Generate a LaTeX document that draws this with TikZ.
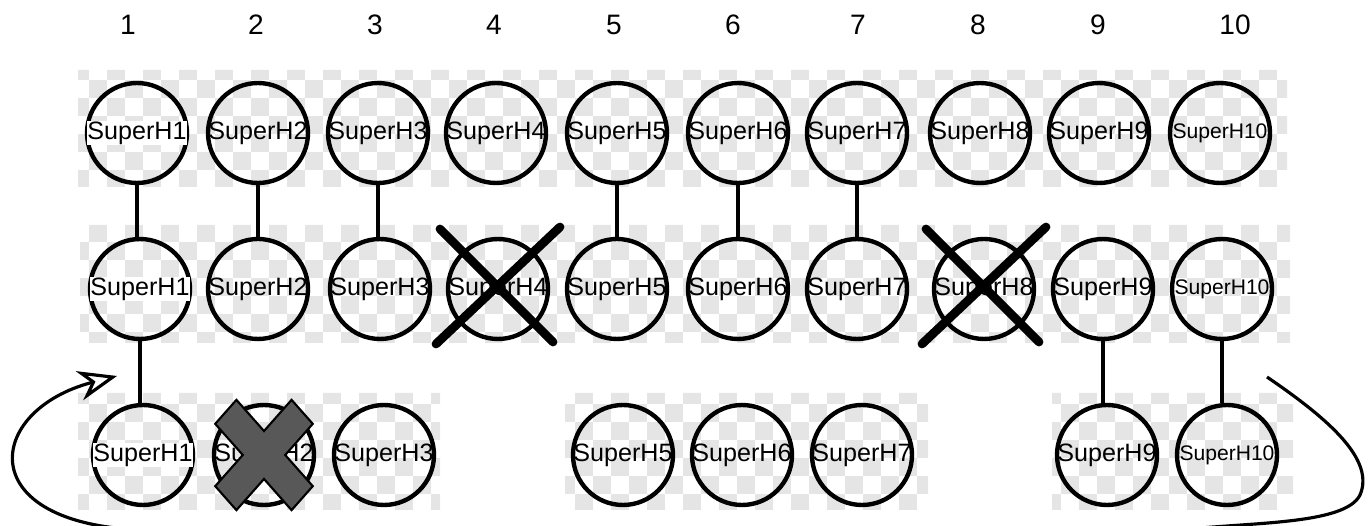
\documentclass[tikz,border=0pt]{standalone}
\usepackage{fontspec}
\setmainfont{Liberation Sans}
\usetikzlibrary{arrows.meta, calc}

\definecolor{checkgray}{HTML}{E5E5E5}
\definecolor{crossgray}{HTML}{585858}

% label of one SuperH circle (zero width, so the circle keeps its size)
\newcommand{\superh}[1]{\makebox[0pt]{\ifnum#1=10\relax\fontsize{12}{14}\selectfont\fi
  \ifnum#1=1\relax\setlength{\fboxsep}{0.5pt}\colorbox{white}{SuperH#1}\else SuperH#1\fi}}

\begin{document}
\begin{tikzpicture}[x=0.02cm, y=-0.02cm]
  \tikzset{
    super node/.style={
        circle, draw=black, line width=2.5pt, minimum size=2.0cm, inner sep=0pt,
        font=\fontsize{14.3}{16}\selectfont
      },
    column number/.style={font=\fontsize{16}{19}\selectfont},
    link/.style={line width=1.8pt},
    strike/.style={line width=5pt, line cap=round},
    loop arrow/.style={line width=1.8pt}
  }
  \useasboundingbox (0,0) rectangle (1370,526);

  % checkerboard strips behind the rows
  \begin{scope}
    \clip (78,70) rectangle (1287,187) (80,225) rectangle (1290,343)
          (78,393) rectangle (440,510) (565,393) rectangle (928,510)
          (1052,393) rectangle (1293,510);
    \foreach \i in {0,...,68}
      \foreach \j in {0,...,25}
        {\ifodd\numexpr\i+\j\relax\else
           \fill[checkgray] ({71+18*\i},{62+18*\j}) rectangle ++(18,18);
         \fi}
  \end{scope}

  % column numbers
  \foreach \c/\x in {1/128,2/256,3/375,4/494,5/614,6/733,7/858,8/978,9/1098,10/1235}
    \node[column number] (num\c) at (\x,25) {\c};

  % three rows of circles
  \foreach \c/\x in {1/137,2/258,3/378,4/496,5/617,6/738,7/857,8/980,9/1099,10/1220}
    \node[super node] (top\c) at (\x,133) {\superh{\c}};
  \foreach \c/\x in {1/140,2/258,3/380,4/498,5/617,6/738,7/857,8/984,9/1103,10/1222}
    \node[super node] (mid\c) at (\x,289) {\superh{\c}};
  \foreach \c/\x in {1/143,2/264,3/384,5/623,6/742,7/862,9/1107,10/1227}
    \node[super node] (bot\c) at (\x,455) {\superh{\c}};

  % links between rows
  \foreach \c in {1,2,3,5,6,7}
    \draw[link] (top\c.south) -- (top\c.south |- mid\c.north);
  \foreach \c in {1,9,10}
    \draw[link] (mid\c.south) -- (mid\c.south |- bot\c.north);

  % struck out
  \foreach \n in {mid4,mid8}{
      \draw[strike] ([shift={(-58,-60)}]\n.center) -- ([shift={(55,53)}]\n.center);
      \draw[strike] ([shift={(62,-62)}]\n.center) -- ([shift={(-62,55)}]\n.center);
    }
  \begin{scope}[shift={(bot2.center)}, yscale=1.13, rotate=45]
    \draw[fill=crossgray, line width=1.2pt] (15,54) -- (15,15) -- (54,15) -- (54,-15) -- (15,-15)
      -- (15,-54) -- (-15,-54) -- (-15,-15) -- (-54,-15) -- (-54,15) -- (-15,15) -- (-15,54) -- cycle;
  \end{scope}

  % wrap-around loop
  \coordinate (loopL) at (145,530);
  \coordinate (loopHead) at (117,376);
  \coordinate (loopR) at (1267,377);
  \coordinate (loopEnd) at (1181,530);
  \draw[loop arrow, -{Stealth[open, length=22pt, width=17pt, inset=7pt]}]
    (loopL) .. controls (-30,525) and (-15,410) .. (loopHead);
  \draw[loop arrow] (loopR) .. controls (1330,420) and (1375,460) .. (1360,495)
    .. controls (1345,525) and (1250,522) .. (loopEnd);
\end{tikzpicture}
\end{document}
